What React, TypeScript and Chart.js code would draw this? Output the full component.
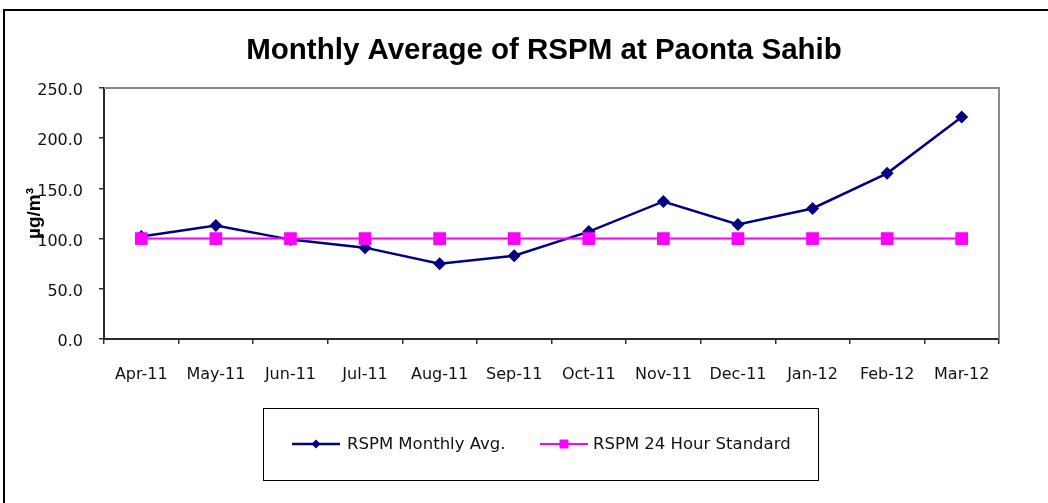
import React, { useEffect, useRef } from "react";
import { Chart, registerables } from "chart.js";

Chart.register(...registerables);

const categories = [
  "Apr-11", "May-11", "Jun-11", "Jul-11", "Aug-11", "Sep-11",
  "Oct-11", "Nov-11", "Dec-11", "Jan-12", "Feb-12", "Mar-12",
];
const monthlyAvg = [102, 113, 99, 91, 75, 83, 107, 137, 114, 130, 165, 221];
const standard24h = [100, 100, 100, 100, 100, 100, 100, 100, 100, 100, 100, 100];
const yMin = 0;
const yMax = 250;
const yStep = 50;
const titleText = "Monthly Average of RSPM at Paonta Sahib";
const yAxisTitle = "µg/m³";
const seriesNames = ["RSPM Monthly Avg.", "RSPM 24 Hour Standard"];

const W = 1048;
const H = 503;

const framePlugin = {
  id: "frame",
  beforeDraw(chart: any) {
    const ctx = chart.ctx;
    ctx.save();
    ctx.fillStyle = "#ffffff";
    ctx.fillRect(0, 0, W, H);
    ctx.fillStyle = "#000000";
    ctx.fillRect(3, 9, W - 3, 2);
    ctx.fillRect(3, 9, 2, H - 9);
    ctx.restore();
  },
  beforeDatasetsDraw(chart: any) {
    const { ctx, chartArea } = chart;
    ctx.save();
    ctx.strokeStyle = "#8a8a8a";
    ctx.lineWidth = 2;
    ctx.beginPath();
    ctx.moveTo(chartArea.left, chartArea.top);
    ctx.lineTo(chartArea.right, chartArea.top);
    ctx.lineTo(chartArea.right, chartArea.bottom);
    ctx.stroke();
    ctx.restore();
  },
};

const titlePlugin = {
  id: "customTitle",
  afterDraw(chart: any) {
    const ctx = chart.ctx;
    ctx.save();
    ctx.fillStyle = "#000000";
    ctx.font = "bold 29.5px 'Liberation Sans', Arial, sans-serif";
    ctx.textAlign = "center";
    ctx.textBaseline = "alphabetic";
    ctx.fillText(titleText, 544, 59);
    ctx.restore();
  },
};

const legendPlugin = {
  id: "customLegend",
  afterDraw(chart: any) {
    const ctx = chart.ctx;
    const ds = chart.data.datasets;
    ctx.save();
    ctx.strokeStyle = "#000000";
    ctx.lineWidth = 1;
    ctx.strokeRect(263.5, 408.5, 555, 72);
    const cy = 444;
    const items = [
      { x0: 292, x1: 340, textX: 347 },
      { x0: 540, x1: 588, textX: 593 },
    ];
    items.forEach((it, i) => {
      const d = ds[i];
      ctx.strokeStyle = d.borderColor;
      ctx.lineWidth = d.borderWidth;
      ctx.beginPath();
      ctx.moveTo(it.x0, cy);
      ctx.lineTo(it.x1, cy);
      ctx.stroke();
      const mx = (it.x0 + it.x1) / 2;
      ctx.fillStyle = d.backgroundColor;
      if (d.pointStyle === "rectRot") {
        ctx.beginPath();
        ctx.moveTo(mx, cy - 4.5);
        ctx.lineTo(mx + 4.5, cy);
        ctx.lineTo(mx, cy + 4.5);
        ctx.lineTo(mx - 4.5, cy);
        ctx.closePath();
        ctx.fill();
      } else {
        ctx.fillRect(mx - 4.5, cy - 4.5, 9, 9);
      }
      ctx.fillStyle = "#111111";
      ctx.font = "16.5px 'DejaVu Sans', sans-serif";
      ctx.textAlign = "left";
      ctx.textBaseline = "middle";
      ctx.fillText(d.label, it.textX, cy + 1);
    });
    ctx.restore();
  },
};

export default function App() {
  const canvasRef = useRef<HTMLCanvasElement | null>(null);

  useEffect(() => {
    const canvas = canvasRef.current;
    if (!canvas) return;
    const chart = new Chart(canvas, {
      type: "line",
      data: {
        labels: categories,
        datasets: [
          {
            label: seriesNames[0],
            data: monthlyAvg,
            borderColor: "#000080",
            backgroundColor: "#000080",
            borderWidth: 2.5,
            pointStyle: "rectRot",
            pointRadius: 6.5,
            pointBorderWidth: 0,
            tension: 0,
            order: 1,
          },
          {
            label: seriesNames[1],
            data: standard24h,
            borderColor: "#FF00FF",
            backgroundColor: "#FF00FF",
            borderWidth: 2,
            pointStyle: "rect",
            pointRadius: 9,
            pointBorderWidth: 0,
            tension: 0,
            order: 0,
          },
        ],
      },
      options: {
        responsive: false,
        animation: false,
        devicePixelRatio: 1,
        layout: { padding: { top: 88, right: 49, bottom: 0, left: 0 } },
        plugins: {
          legend: { display: false },
          title: { display: false },
          tooltip: { enabled: false },
        },
        scales: {
          x: {
            type: "category",
            offset: true,
            grid: {
              offset: true,
              drawOnChartArea: false,
              drawTicks: true,
              tickLength: 5,
              color: "#333333",
              lineWidth: 1.5,
            },
            border: { display: true, color: "#2a2a2a", width: 2 },
            ticks: {
              color: "#111111",
              font: { family: "'DejaVu Sans', sans-serif", size: 16 },
              padding: 21,
              maxRotation: 0,
              autoSkip: false,
            },
            afterFit: (scale: any) => {
              scale.height = 164;
            },
          },
          y: {
            min: yMin,
            max: yMax,
            grid: {
              drawOnChartArea: false,
              drawTicks: true,
              tickLength: 5,
              color: "#333333",
              lineWidth: 1.5,
            },
            border: { display: true, color: "#2a2a2a", width: 2 },
            ticks: {
              stepSize: yStep,
              color: "#111111",
              font: { family: "'DejaVu Sans', sans-serif", size: 16 },
              padding: 16,
              labelOffset: 3,
              callback: (v: any) => Number(v).toFixed(1),
            },
            title: {
              display: true,
              text: yAxisTitle,
              color: "#000000",
              font: { family: "'Liberation Sans', Arial, sans-serif", size: 19, weight: "bold" },
              padding: { top: 23, bottom: 0 },
            },
            afterFit: (scale: any) => {
              scale.width = 104;
            },
          },
        },
      },
      plugins: [framePlugin, titlePlugin, legendPlugin],
    } as any);
    return () => chart.destroy();
  }, []);

  return (
    <div style={{ position: "absolute", left: 0, top: 0, width: W, height: H, background: "#fff" }}>
      <canvas ref={canvasRef} width={W} height={H} style={{ display: "block", width: W, height: H }} />
    </div>
  );
}
